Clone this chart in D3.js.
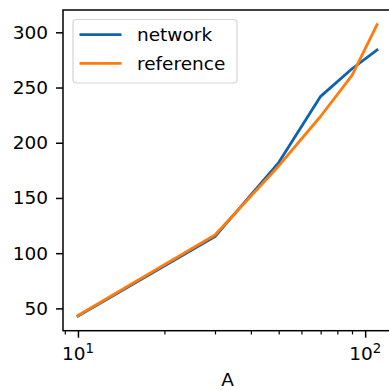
<!DOCTYPE html>
<html>
<head>
<meta charset="utf-8">
<script src="https://cdn.jsdelivr.net/npm/d3@7"></script>
<style>
  html, body { margin: 0; padding: 0; background: #fff; }
  svg { display: block; }
  text { font-family: "DejaVu Sans", sans-serif; fill: #000; }
</style>
</head>
<body>
<svg id="chart" width="389" height="391"></svg>
<script>
// Data
const A = [10, 30, 50, 70, 90, 110];
const network = [43, 115, 182, 242, 267, 284];
const reference = [43.5, 116.5, 179, 224, 261, 307];
const seriesNames = ["network", "reference"];
const seriesColors = ["#0e62b4", "#ff7b0a"];
const yTicks = [50, 100, 150, 200, 250, 300];
const xMajorTicks = [10, 100];
const xMajorLabels = [["10", "1"], ["10", "2"]];
const xLabel = "A";

(function draw() {
  const plotLeft = 63, plotRight = 392, plotTop = 10, plotBottom = 330.7;
  const fs = 18.5;

  const svg = d3.select("#chart");

  // Axis limits with 5% padding (log space for x)
  const lx = d3.extent(A).map(Math.log10);
  const px = (lx[1] - lx[0]) * 0.05;
  const x = d3.scaleLog()
    .domain([Math.pow(10, lx[0] - px), Math.pow(10, lx[1] + px)])
    .range([plotLeft, plotRight]);

  const allY = network.concat(reference);
  const ey = d3.extent(allY);
  const py = (ey[1] - ey[0]) * 0.05;
  const y = d3.scaleLinear()
    .domain([ey[0] - py, ey[1] + py])
    .range([plotBottom, plotTop]);

  // Plot lines
  const line = d3.line().x((d, i) => x(A[i])).y(d => y(d));
  svg.append("defs").append("clipPath").attr("id", "clip")
    .append("rect").attr("x", plotLeft).attr("y", plotTop)
    .attr("width", plotRight - plotLeft).attr("height", plotBottom - plotTop);
  [network, reference].forEach((s, k) => {
    svg.append("path")
      .datum(s)
      .attr("clip-path", "url(#clip)")
      .attr("d", line)
      .attr("fill", "none")
      .attr("stroke", seriesColors[k])
      .attr("stroke-width", 2.8)
      .attr("stroke-linejoin", "round")
      .attr("stroke-linecap", "square");
  });

  // Spines
  svg.append("rect").attr("x", plotLeft).attr("y", plotTop)
    .attr("width", plotRight - plotLeft).attr("height", plotBottom - plotTop)
    .attr("fill", "none").attr("stroke", "#000").attr("stroke-width", 1.5);

  // Y axis
  const yAxis = svg.append("g").attr("transform", `translate(${plotLeft},0)`)
    .call(d3.axisLeft(y).tickValues(yTicks).tickSize(7).tickPadding(8).tickFormat(d3.format("d")));
  yAxis.select(".domain").remove();
  yAxis.selectAll(".tick line").attr("stroke", "#000").attr("stroke-width", 1.5);
  yAxis.selectAll(".tick text")
    .attr("font-size", fs).attr("font-family", "DejaVu Sans, sans-serif").attr("fill", "#000");

  // X axis: minor ticks
  const [d0, d1] = x.domain();
  const minor = [];
  for (let dec = 1; dec <= 100; dec *= 10) {
    for (let m = 1; m <= 9; m++) {
      const v = m * dec;
      if (v >= d0 && v <= d1 && !xMajorTicks.includes(v)) minor.push(v);
    }
  }
  const xMinor = svg.append("g").attr("transform", `translate(0,${plotBottom})`)
    .call(d3.axisBottom(x).tickValues(minor).tickSize(3.7).tickFormat(""));
  xMinor.select(".domain").remove();
  xMinor.selectAll(".tick line").attr("stroke", "#000").attr("stroke-width", 1.2);

  const xMajor = svg.append("g").attr("transform", `translate(0,${plotBottom})`)
    .call(d3.axisBottom(x).tickValues(xMajorTicks).tickSize(7).tickFormat(""));
  xMajor.select(".domain").remove();
  xMajor.selectAll(".tick line").attr("stroke", "#000").attr("stroke-width", 1.5);

  // Major labels with superscript exponent
  xMajorTicks.forEach((v, i) => {
    const t = svg.append("text")
      .attr("x", x(v)).attr("y", 360)
      .attr("text-anchor", "middle")
      .attr("font-size", fs);
    t.append("tspan").text(xMajorLabels[i][0]);
    t.append("tspan").attr("dy", -7).attr("font-size", fs * 0.72).text(xMajorLabels[i][1]);
  });

  // X label
  svg.append("text")
    .attr("x", (plotLeft + plotRight) / 2).attr("y", 386)
    .attr("text-anchor", "middle")
    .attr("font-size", fs)
    .text(xLabel);

  // Legend
  const lg = svg.append("g");
  lg.append("rect")
    .attr("x", 73).attr("y", 19.5).attr("width", 164).attr("height", 63.5)
    .attr("rx", 3.5).attr("ry", 3.5)
    .attr("fill", "#fff").attr("fill-opacity", 0.8)
    .attr("stroke", "#d5d5d5").attr("stroke-width", 1.2);
  seriesNames.forEach((name, k) => {
    const cy = 34.7 + k * 28.6;
    lg.append("line")
      .attr("x1", 79.5).attr("x2", 121.5).attr("y1", cy).attr("y2", cy)
      .attr("stroke", seriesColors[k]).attr("stroke-width", 2.8);
    lg.append("text")
      .attr("x", 137).attr("y", cy + 6.5)
      .attr("font-size", fs)
      .text(name);
  });
})();
</script>
</body>
</html>
